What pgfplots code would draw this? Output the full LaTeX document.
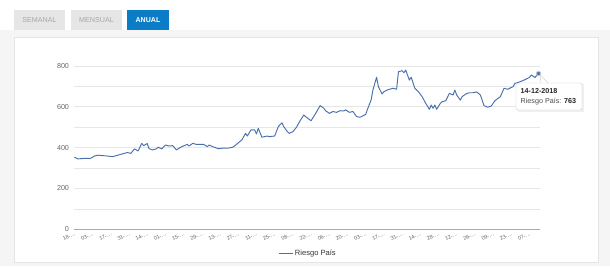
\documentclass[border=0pt]{standalone}
\usepackage{pgfplots}
\pgfplotsset{compat=1.18}
\usepackage{fontspec}
\setmainfont{Liberation Sans}
\definecolor{bgc}{HTML}{F5F5F5}
\definecolor{cardb}{HTML}{E4E4E4}
\definecolor{btngray}{HTML}{E6E6E6}
\definecolor{btntxt}{HTML}{A8A8A8}
\definecolor{btnblue}{HTML}{0B7DC6}
\definecolor{linec}{HTML}{4A70AC}
\definecolor{gridc}{HTML}{E6E6E6}
\definecolor{labc}{HTML}{666666}
\pgfplotstableread{
i v
0 353
2 345
5 347
9 348
11 359
13 363
17 360
21 356
25 366
29 376
31 372
33 394
35 384
37 421
38 410
40 420
41 395
43 389
45 394
46 402
48 394
50 413
52 408
54 410
56 389
59 405
62 416
63 408
65 421
67 416
71 416
73 405
74 413
76 405
79 395
82 398
84 397
87 402
89 416
92 438
94 470
95 457
97 487
99 487
100 467
101 495
103 451
106 457
107 454
110 457
112 503
114 522
115 503
117 478
118 470
120 478
122 500
124 532
126 560
127 552
130 532
132 560
135 606
137 593
138 581
140 568
142 577
144 573
146 581
148 580
149 585
151 573
153 577
155 552
157 549
160 563
161 588
163 634
164 683
166 745
167 699
169 663
170 674
172 683
175 691
177 686
178 772
180 777
181 767
182 780
184 731
185 745
187 691
189 674
191 650
193 617
195 588
196 609
197 593
198 609
199 588
201 617
202 625
204 630
206 666
208 658
209 682
210 658
212 633
213 650
215 663
217 669
219 669
221 673
223 658
224 633
225 606
227 598
229 604
231 630
234 650
236 691
238 686
241 699
242 715
244 720
247 731
250 744
251 756
253 744
255 763
}\riesgo
\begin{document}
\begin{tikzpicture}[x=1bp,y=1bp]
\fill[bgc] (0,0) rectangle (610,266);
\fill[white] (0,266) rectangle (610,236);
% card
\draw[cardb,fill=white] (14,4) rectangle (598,229);
% buttons
\fill[btngray] (14,236) rectangle (65,256);
\node[text=btntxt,font=\fontsize{7.2}{8}\selectfont] at (39.5,246) {SEMANAL};
\fill[btngray] (71,236) rectangle (122,256);
\node[text=btntxt,font=\fontsize{7.2}{8}\selectfont] at (96.5,246) {MENSUAL};
\fill[btnblue] (127,236) rectangle (169,256);
\node[text=white,font=\fontsize{7.1}{8}\selectfont\bfseries] at (148,246) {ANUAL};
\begin{axis}[
  at={(73.5bp,36.7bp)}, anchor=south west,
  scale only axis, width=466bp, height=163.3bp,
  xmin=-0.5, xmax=255.5, ymin=0, ymax=800,
  clip=false,
  axis x line*=bottom, axis y line*=left,
  x axis line style={draw=labc!55,-},
  y axis line style={draw=none},
  ytick={0,200,400,600,800},
  minor ytick={100,300,500,700},
  ymajorgrids, yminorgrids,
  major grid style={gridc, line width=0.7pt},
  minor grid style={gridc, line width=0.7pt},
  major tick length=0pt, minor tick length=0pt,
  xtick={0,10,...,250},
  xticklabels={18-…,03-…,17-…,31-…,14-…,01-…,15-…,29-…,13-…,27-…,11-…,25-…,08-…,22-…,06-…,20-…,03-…,17-…,31-…,14-…,28-…,12-…,26-…,09-…,23-…,07-…},
  x tick label style={rotate=25, anchor=north east, font=\fontsize{5.4}{6}\selectfont, text=labc, inner sep=1bp, yshift=-1bp},
  y tick label style={font=\fontsize{7.2}{8}\selectfont, text=labc, xshift=-1bp},
  /pgf/number format/assume math mode=true,
  legend style={at={(0.503,-0.145)}, anchor=center, draw=none, fill=none, font=\fontsize{7.6}{9}\selectfont, text=black!80, inner sep=1bp},
  legend image code/.code={\draw[#1] (0bp,0bp) -- (14bp,0bp);},
]
\addplot[linec, line width=0.95pt, line join=round] table[x=i,y=v] {\riesgo};
\addlegendentry{Riesgo País}
\addplot[only marks, mark=*, mark size=2.2bp, mark options={fill=linec, draw=linec!40, line width=0.8pt}, forget plot] coordinates {(255,763)};
\end{axis}
% tooltip
\fill[black!6] (517.5,154.5) rectangle (583.5,182);
\draw[black!20, fill=white, rounded corners=1.5bp] (516,156) rectangle (582,183);
\fill[white] (541,183.4) -- (548,183.4) -- (540,191.5) -- cycle;
\draw[black!20] (541,183) -- (540,191.5) -- (548,183);
\node[anchor=west, font=\fontsize{7.2}{8}\selectfont\bfseries, text=black!85, inner sep=0] at (520.5,174.5) {14-12-2018};
\node[anchor=west, font=\fontsize{7.2}{8}\selectfont, text=black!70, inner sep=0] at (520.5,164.3) {Riesgo País: \textbf{\color{black!85}763}};
\end{tikzpicture}
\end{document}
